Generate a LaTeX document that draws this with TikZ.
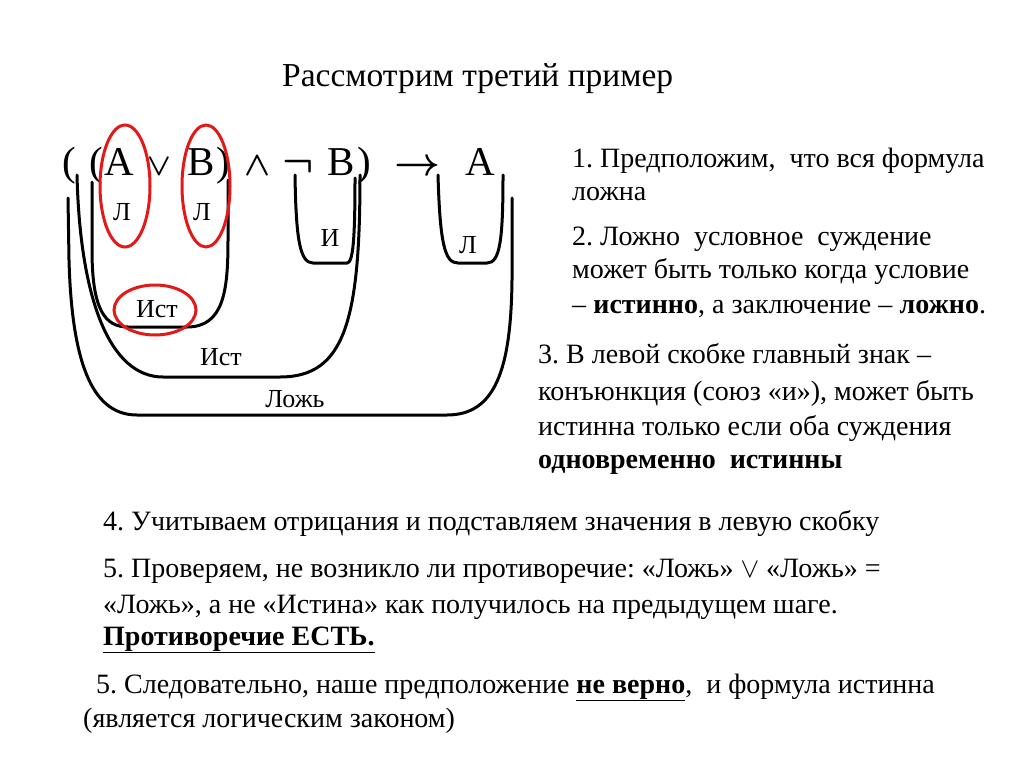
\documentclass[tikz,border=0pt]{standalone}
\usepackage{fix-cm}
\usepackage{fontspec}
\setmainfont{Liberation Serif}
\definecolor{ovalred}{RGB}{225,25,25}
\frenchspacing
\begin{document}
\begin{tikzpicture}[x=1pt,y=-1pt,
  every node/.style={inner sep=0pt},
  txt/.style={anchor=base west,font=\fontsize{28}{32}\selectfont},
  frm/.style={anchor=base,font=\fontsize{41}{45}\selectfont},
  sym/.style={anchor=base,font=\fontsize{#1}{#1}\selectfont\boldmath},
  lbl/.style={font=\fontsize{26}{28}\selectfont},
  ubr/.style={line width=3pt,line cap=round},
  oval/.style={draw=ovalred,line width=3pt}]
\useasboundingbox (0,0) rectangle (1024,768);

\node[anchor=base west,font=\fontsize{33.5}{38}\selectfont] (title) at (282,86) {Рассмотрим третий пример};

% formula
\node[frm] (p1) at (69,175) {(};
\node[frm] (p2) at (96,175) {(};
\node[frm] (fa) at (119,175) {A};
\node[sym=31] (vee) at (159,175) {$\vee$};
\node[frm] (fb) at (201,175) {B};
\node[frm] (p3) at (223,175) {)};
\node[sym=34] (wedge) at (258,175) {$\wedge$};
\node[sym=41] (neg) at (298,175) {$\neg$};
\node[sym=40] (to) at (417,175) {$\to$};
\node[frm] (fb2) at (341,175) {B};
\node[frm] (p4) at (364,175) {)};
\node[frm] (fa2) at (480,175) {A};

% brackets
\draw[ubr] (92,182) -- (92,250) .. controls (92,310) and (105,327) .. (128,327) -- (187,327) .. controls (224,327) and (228,290) .. (228,240) -- (228,180);
\draw[ubr] (77,175) .. controls (80,300) and (110,377) .. (163,377) -- (280,377) .. controls (345,377) and (360,320) .. (360,175);
\draw[ubr] (68,198) -- (69,260) .. controls (72,370) and (95,415) .. (137,415) -- (447,415) .. controls (495,415) and (511,370) .. (512,280) -- (512,198);
\draw[ubr] (295,175) .. controls (296,240) and (300,263) .. (313,263) -- (347,263) .. controls (353,263) and (355,240) .. (355,178);
\draw[ubr] (438,175) .. controls (440,245) and (445,263) .. (458,263) -- (487,263) .. controls (500,263) and (503,240) .. (503,175);

% labels
\node[lbl] (la) at (122,212) {Л};
\node[lbl] (lb) at (202,212) {Л};
\node[lbl] (li) at (330,238) {И};
\node[lbl] (lr) at (468,245) {Л};
\node[lbl] (ist1) at (157,309) {Ист};
\node[lbl] (ist2) at (221,357) {Ист};
\node[lbl] (lozh) at (295,399) {Ложь};

% red ovals
\draw[oval] (125,186) ellipse [x radius=25,y radius=61];
\draw[oval] (206,186) ellipse [x radius=24,y radius=61];
\draw[oval] (155,310) ellipse [x radius=41,y radius=25];

% right text
\node[txt] (t1a) at (572,167) {1. Предположим, \ что вся формула};
\node[txt] (t1b) at (572,200) {ложна};
\node[txt] (t2a) at (572,245) {2. Ложно \ условное \ суждение};
\node[txt] (t2b) at (572,278) {может быть только когда условие};
\node[txt] (t2c) at (572,313) {– \textbf{истинно}, а заключение – \textbf{ложно}.};
\node[txt] (t3a) at (538,363) {3. В левой скобке главный знак –};
\node[txt] (t3b) at (538,400) {конъюнкция (союз «и»), может быть};
\node[txt] (t3c) at (538,435) {истинна только если оба суждения};
\node[txt] (t3d) at (538,468) {\textbf{одновременно \ истинны}};

% bottom text
\node[txt] (t4) at (103,530) {4. Учитываем отрицания и подставляем значения в левую скобку};
\node[txt] (t5a) at (103,577) {5. Проверяем, не возникло ли противоречие: «Ложь» $\vee$ «Ложь» =};
\node[txt] (t5b) at (103,613) {«Ложь», а не «Истина» как получилось на предыдущем шаге.};
\node[txt] (t5c) at (103,645) {\textbf{\underline{Противоречие ЕСТЬ.}}};
\node[txt] (t6a) at (96,693) {5. Следовательно, наше предположение \textbf{\underline{не верно}}, \ и формула истинна};
\node[txt] (t6b) at (83,727) {(является логическим законом)};
\end{tikzpicture}
\end{document}
